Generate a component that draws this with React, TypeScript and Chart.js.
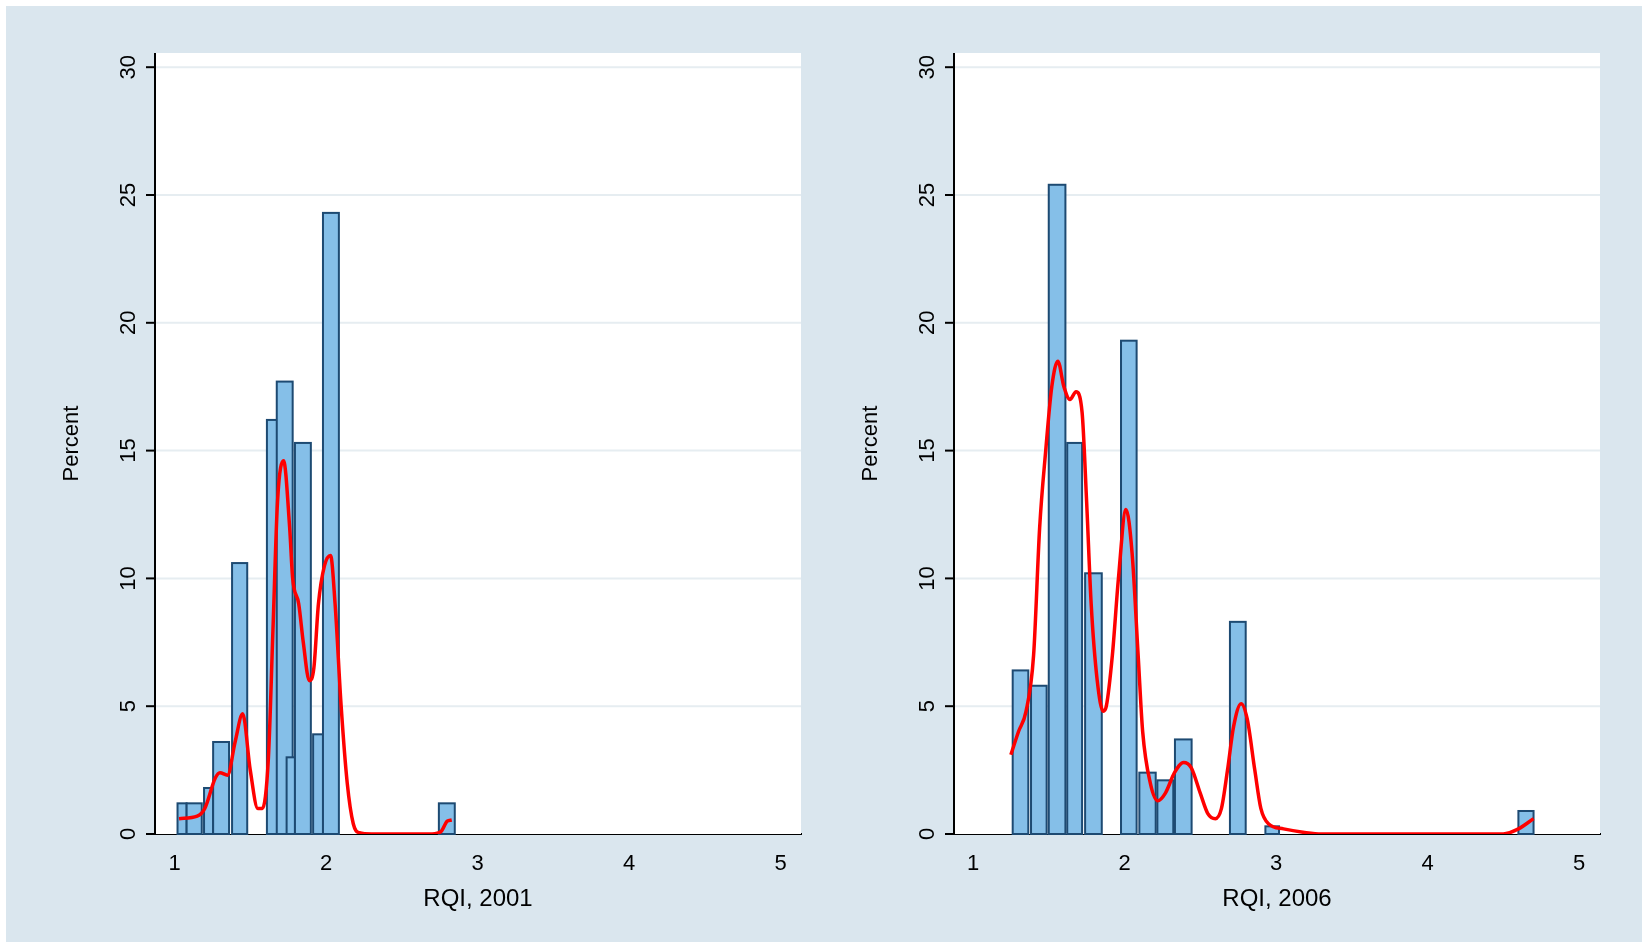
import { useEffect, useRef } from 'react'
import Chart from 'chart.js/auto'

// histogram bins: [from, to, percent]
const bins2001: number[][] = [
  [1.02, 1.08, 1.2], [1.08, 1.18, 1.2], [1.195, 1.255, 1.8], [1.255, 1.36, 3.6],
  [1.38, 1.48, 10.6], [1.61, 1.68, 16.2], [1.675, 1.78, 17.7], [1.74, 1.795, 3.0],
  [1.795, 1.9, 15.3], [1.915, 1.98, 3.9], [1.98, 2.085, 24.3], [2.745, 2.85, 1.2],
]
const bins2006: number[][] = [
  [1.262, 1.365, 6.4], [1.383, 1.486, 5.8], [1.5, 1.61, 25.4], [1.622, 1.72, 15.3],
  [1.74, 1.85, 10.2], [1.977, 2.08, 19.3], [2.098, 2.206, 2.4], [2.217, 2.322, 2.1],
  [2.333, 2.443, 3.7], [2.696, 2.8, 8.3], [2.93, 3.02, 0.3], [4.6, 4.7, 0.9],
]
const kdeX2001 = [1.03, 1.15, 1.2, 1.27, 1.3, 1.35, 1.4, 1.45, 1.5, 1.55, 1.58, 1.62, 1.65, 1.68, 1.72, 1.76, 1.78, 1.82, 1.85, 1.89, 1.92, 1.95, 1.99, 2.03, 2.06, 2.1, 2.14, 2.18, 2.22, 2.3, 2.7, 2.76, 2.8, 2.83]
const kdeY2001 = [0.6, 0.7, 1.0, 2.2, 2.4, 2.3, 3.6, 4.7, 2.5, 1.0, 1.0, 3, 8, 13, 14.6, 12, 10, 9, 7.5, 6.0, 6.5, 9, 10.5, 10.9, 9, 5, 2, 0.4, 0.05, 0, 0, 0.1, 0.5, 0.55]
const kdeX2006 = [1.25, 1.3, 1.35, 1.4, 1.44, 1.48, 1.52, 1.56, 1.6, 1.64, 1.68, 1.72, 1.75, 1.78, 1.82, 1.86, 1.88, 1.92, 1.96, 2.01, 2.05, 2.09, 2.12, 2.17, 2.22, 2.27, 2.33, 2.39, 2.44, 2.5, 2.55, 2.6, 2.64, 2.68, 2.72, 2.77, 2.81, 2.86, 2.9, 2.95, 3.05, 3.2, 3.3, 4.5, 4.6, 4.7]
const kdeY2006 = [3.1, 4.0, 4.8, 7, 12, 15, 17.5, 18.5, 17.5, 17.0, 17.3, 16.5, 13, 9, 6, 4.8, 5.0, 7.0, 10, 12.7, 11, 7, 4, 2, 1.3, 1.6, 2.4, 2.8, 2.6, 1.6, 0.8, 0.6, 1.0, 2.5, 4.2, 5.1, 4.5, 2.5, 1.0, 0.4, 0.2, 0.05, 0, 0, 0.2, 0.6]
const xTicks = [1, 2, 3, 4, 5]
const yTicks = [0, 5, 10, 15, 20, 25, 30]

const FONT = '"Liberation Sans", Arial, sans-serif'

function Panel({ bins, kx, ky, title, axisW, padR, min, left }: {
  bins: number[][]; kx: number[]; ky: number[]; title: string
  axisW: number; padR: number; min: number; left: number
}) {
  const ref = useRef<HTMLCanvasElement>(null)
  useEffect(() => {
    if (!ref.current) return
    const histPlugin = {
      id: 'hist',
      beforeDatasetsDraw(chart: any) {
        const { ctx, chartArea: a, scales: { x, y } } = chart
        ctx.save()
        ctx.fillStyle = '#ffffff'
        ctx.fillRect(a.left, a.top, a.right - a.left, a.bottom - a.top)
        ctx.strokeStyle = '#e6edf1'
        ctx.lineWidth = 2
        for (const t of yTicks.slice(1)) {
          const py = y.getPixelForValue(t)
          ctx.beginPath(); ctx.moveTo(a.left, py); ctx.lineTo(a.right, py); ctx.stroke()
        }
        ctx.fillStyle = '#85bfe8'
        ctx.strokeStyle = '#1d4a72'
        ctx.lineWidth = 2
        for (const [x0, x1, h] of bins) {
          const l = x.getPixelForValue(x0), r = x.getPixelForValue(x1)
          const t = y.getPixelForValue(h), b = y.getPixelForValue(0)
          ctx.fillRect(l, t, r - l, b - t)
          ctx.strokeRect(l, t, r - l, b - t)
        }
        ctx.restore()
      },
      afterDraw(chart: any) {
        const { ctx, chartArea: a, scales: { y } } = chart
        ctx.save()
        ctx.fillStyle = '#000'
        ctx.strokeStyle = '#000'
        ctx.lineWidth = 2
        ctx.beginPath(); ctx.moveTo(a.left, a.top); ctx.lineTo(a.left, a.bottom); ctx.stroke()
        ctx.font = `22px ${FONT}`
        ctx.textAlign = 'center'
        ctx.textBaseline = 'bottom'
        for (const t of yTicks) {
          const py = y.getPixelForValue(t)
          ctx.beginPath(); ctx.moveTo(a.left - 9, py); ctx.lineTo(a.left, py); ctx.stroke()
          ctx.save(); ctx.translate(a.left - 15, py); ctx.rotate(-Math.PI / 2)
          ctx.fillText(String(t), 0, 0); ctx.restore()
        }
        ctx.save(); ctx.translate(a.left - 72, (a.top + a.bottom) / 2); ctx.rotate(-Math.PI / 2)
        ctx.fillText('Percent', 0, 0); ctx.restore()
        ctx.restore()
      },
    }
    const chart = new Chart(ref.current, {
      type: 'line',
      data: {
        datasets: [{
          data: kx.map((v, i) => ({ x: v, y: ky[i] })),
          borderColor: '#ff0000', borderWidth: 3.5, pointRadius: 0, tension: 0.4,
          cubicInterpolationMode: 'monotone',
        }],
      },
      options: {
        animation: false, responsive: false,
        layout: { padding: { top: 53, right: padR, left: 0, bottom: 30 } },
        plugins: { legend: { display: false }, tooltip: { enabled: false } },
        scales: {
          x: {
            type: 'linear', min, max: min + 646 / 151.5,
            afterBuildTicks: (s: any) => { s.ticks = xTicks.map((v) => ({ value: v })) },
            afterFit: (s: any) => { s.height = 84 },
            grid: { display: false, drawOnChartArea: false, tickLength: 9, tickColor: '#000' },
            border: { color: '#000', width: 2 },
            ticks: { color: '#000', font: { family: FONT, size: 22 }, padding: 8 },
            title: { display: true, text: title, color: '#000', font: { family: FONT, size: 24 }, padding: { top: 4 } },
          },
          y: {
            min: 0, max: 781 / 25.56,
            afterFit: (s: any) => { s.width = axisW },
            grid: { display: false }, border: { display: false },
            ticks: { display: false },
          },
        },
      },
      plugins: [histPlugin],
    })
    return () => chart.destroy()
  }, [])
  return <canvas ref={ref} width={824} height={948} style={{ position: 'absolute', left, top: 0, width: 824, height: 948 }} />
}

export default function App() {
  return (
    <div style={{ position: 'fixed', left: 0, top: 0, width: 1648, height: 948, background: '#ffffff' }}>
      <div style={{ position: 'absolute', left: 6, top: 6, width: 1636, height: 936, background: '#dae6ee' }} />
      <Panel bins={bins2001} kx={kdeX2001} ky={kdeY2001} title="RQI, 2001" axisW={155} padR={23} min={1 - 19.5 / 151.5} left={0} />
      <Panel bins={bins2006} kx={kdeX2006} ky={kdeY2006} title="RQI, 2006" axisW={130} padR={48} min={1 - 19 / 151.5} left={824} />
    </div>
  )
}
